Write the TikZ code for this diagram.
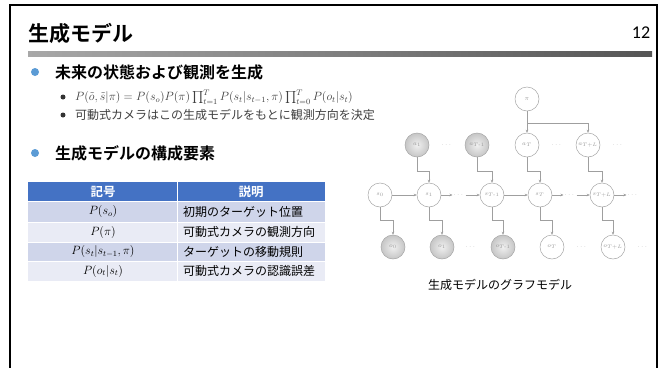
\documentclass[tikz,border=0pt]{standalone}
\usepackage{fontspec}
\usepackage{amsmath}
\newfontfamily\jp{Noto Sans CJK JP}[BoldFont={Noto Sans CJK JP Bold}]
\newfontfamily\carl{Carlito}
\usetikzlibrary{arrows.meta}
\definecolor{hdrblue}{HTML}{4472C4}
\definecolor{rowdark}{HTML}{CFD5EA}
\definecolor{rowlight}{HTML}{E9EBF5}
\definecolor{bulblue}{HTML}{5B9BD5}
\definecolor{subtxt}{HTML}{404040}
\definecolor{barL}{HTML}{A8A8A8}
\definecolor{barR}{HTML}{555555}
\tikzset{
  title/.style={anchor=west, inner sep=0pt, font=\jp\bfseries\fontsize{21}{24}\selectfont},
  head/.style={anchor=west, inner sep=0pt, font=\jp\bfseries\fontsize{16}{18}\selectfont},
  subtext/.style={anchor=west, inner sep=0pt, text=subtxt, font=\jp\fontsize{12}{14}\selectfont},
  bigdot/.style={circle, fill=bulblue, minimum size=8pt, inner sep=0pt},
  smalldot/.style={circle, fill=black!80, minimum size=5pt, inner sep=0pt},
  hdr/.style={inner sep=0pt, text=white, font=\jp\bfseries\fontsize{12.5}{14}\selectfont},
  cellm/.style={inner sep=0pt, font=\fontsize{12}{14}\selectfont},
  cellj/.style={anchor=west, inner sep=0pt, font=\jp\fontsize{12}{14}\selectfont},
  wnode/.style={circle, draw=gray!70, line width=0.5pt, fill=white, minimum size=24pt, inner sep=0pt, text=gray!80, font=\fontsize{6}{7}\selectfont},
  gnode/.style={wnode, inner color=gray!12, outer color=gray!45},
  dotsn/.style={inner sep=1pt, text=gray!70, font=\fontsize{6}{7}\selectfont},
  conn/.style={draw=gray!75, line width=0.5pt, -{Stealth[length=3pt,width=2.6pt]}},
  caption/.style={inner sep=0pt, font=\jp\fontsize{12}{14}\selectfont}
}
\begin{document}
\begin{tikzpicture}[x=1pt,y=-1pt]
\useasboundingbox (0,0) rectangle (667,367);
\fill[white] (0,0) rectangle (667,367);
% frame
\draw[line width=2pt] (10,370) -- (10,5) -- (657,5) -- (657,370);
% title
\node[title] (ttl) at (28,33) {生成モデル};
\node[inner sep=0pt, font=\carl\fontsize{18}{20}\selectfont] (pg) at (641,33) {12};
\shade[left color=barL, right color=barR] (28,51) rectangle (652,56.5);
% bullets
\node[bigdot] (b1) at (35,72) {};
\node[head] (h1) at (55,72) {未来の状態および観測を生成};
\node[smalldot] (d1) at (63,97) {};
\node[anchor=west, inner sep=0pt, text=subtxt, font=\fontsize{11.5}{13}\selectfont] (f1) at (75,97)
 {$P(\tilde{o},\tilde{s}|\pi)=P(s_o)P(\pi)\prod_{t=1}^{T}P(s_t|s_{t-1},\pi)\prod_{t=0}^{T}P(o_t|s_t)$};
\node[smalldot] (d2) at (63,115) {};
\node[subtext] (t2) at (75,115) {可動式カメラはこの生成モデルをもとに観測方向を決定};
\node[bigdot] (b2) at (35,153) {};
\node[head] (h2) at (55,153) {生成モデルの構成要素};
% table
\fill[hdrblue] (28,182) rectangle (325,201);
\fill[rowdark] (28,201) rectangle (325,222);
\fill[rowlight] (28,222) rectangle (325,242);
\fill[rowdark] (28,242) rectangle (325,261);
\fill[rowlight] (28,261) rectangle (325,281);
\draw[white, line width=1pt] (28,201) -- (325,201) (28,222) -- (325,222) (28,242) -- (325,242) (28,261) -- (325,261) (177,182) -- (177,281);
\node[hdr] (c00) at (103,191.5) {記号};
\node[hdr] (c01) at (251,191.5) {説明};
\node[cellm] (c10) at (103,211.5) {$P(s_o)$};
\node[cellj] (c11) at (183,211.5) {初期のターゲット位置};
\node[cellm] (c20) at (103,232) {$P(\pi)$};
\node[cellj] (c21) at (183,232) {可動式カメラの観測方向};
\node[cellm] (c30) at (103,251.5) {$P(s_t|s_{t-1},\pi)$};
\node[cellj] (c31) at (183,251.5) {ターゲットの移動規則};
\node[cellm] (c40) at (103,271) {$P(o_t|s_t)$};
\node[cellj] (c41) at (183,271) {可動式カメラの認識誤差};
% graph
\node[wnode] (pi) at (527,99) {$\pi$};
\node[gnode] (a1) at (417,145) {$a_1$};
\node[dotsn] (ad1) at (447,145) {$\cdots$};
\node[gnode] (aT1) at (477,145) {$a_{T\text{-}1}$};
\node[wnode] (aT) at (527,145) {$a_T$};
\node[dotsn] (ad2) at (557,145) {$\cdots$};
\node[wnode] (aTL) at (588,145) {$a_{T+L}$};
\node[dotsn] (ad3) at (618,145) {$\cdots$};
\node[wnode] (s0) at (380,195) {$s_0$};
\node[wnode] (s1) at (429,195) {$s_1$};
\node[dotsn] (sd1) at (459,195) {$\cdots$};
\node[wnode] (sT1) at (492,195) {$s_{T\text{-}1}$};
\node[wnode] (sT) at (540,195) {$s_T$};
\node[dotsn] (sd2) at (570,195) {$\cdots$};
\node[wnode] (sTL) at (602,195) {$s_{T+L}$};
\node[dotsn] (sd3) at (633,195) {$\cdots$};
\node[gnode] (o0) at (393,247) {$o_0$};
\node[gnode] (o1) at (442,247) {$o_1$};
\node[dotsn] (od1) at (471,247) {$\cdots$};
\node[gnode] (oT1) at (503,247) {$o_{T\text{-}1}$};
\node[wnode] (oT) at (552,247) {$o_T$};
\node[dotsn] (od2) at (582,247) {$\cdots$};
\node[wnode] (oTL) at (613,247) {$o_{T+L}$};
\node[dotsn] (od3) at (643,247) {$\cdots$};
\coordinate (br) at (527,123);
\draw[conn] (pi) -- (aT);
\draw[conn] (br) -| (aTL.north);
\foreach \a/\s in {a1/s1, aT1/sT1, aT/sT, aTL/sTL}
  \draw[conn] (\a.south) -- ++(0,14) -| (\s.north);
\foreach \s/\o in {s0/o0, s1/o1, sT1/oT1, sT/oT, sTL/oTL}
  \draw[conn] (\s.south) -- ++(0,13) -| (\o.north);
\draw[conn] (s0) -- (s1);
\draw[conn] (s1) -- (sd1);
\draw[conn] (sd1) -- (sT1);
\draw[conn] (sT1) -- (sT);
\draw[conn] (sT) -- (sd2);
\draw[conn] (sd2) -- (sTL);
\draw[conn] (sTL) -- (sd3);
\node[caption] (cap) at (500,285) {生成モデルのグラフモデル};
\end{tikzpicture}
\end{document}
